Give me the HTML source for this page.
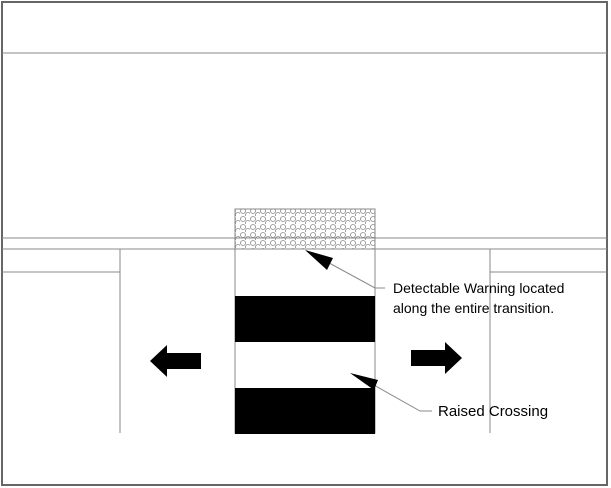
<!DOCTYPE html>
<html><head><style>body{margin:0;background:#fff}svg{display:block}</style></head><body>
<svg width="611" height="488" xmlns="http://www.w3.org/2000/svg">
<defs><pattern id="p" width="10" height="8" patternUnits="userSpaceOnUse"><circle cx="3" cy="3" r="2.5" fill="none" stroke="#888" stroke-width="0.8"/><circle cx="8" cy="7" r="2.5" fill="none" stroke="#888" stroke-width="0.8"/></pattern></defs>
<rect x="2" y="2" width="605" height="483" fill="none" stroke="#666" stroke-width="2"/>
<g stroke="#888" stroke-width="1" fill="none">
<line x1="2" y1="53" x2="607" y2="53"/>
<line x1="2" y1="238" x2="607" y2="238"/>
<line x1="2" y1="249" x2="607" y2="249"/>
<line x1="2" y1="272" x2="120" y2="272"/>
<line x1="490" y1="272" x2="607" y2="272"/>
<line x1="120" y1="249" x2="120" y2="433"/>
<line x1="490" y1="249" x2="490" y2="433"/>
<rect x="235" y="209" width="140" height="224"/>
</g>
<rect x="235.5" y="209.5" width="139" height="39" fill="url(#p)"/>
<rect x="235" y="296" width="140" height="46" fill="#000"/>
<rect x="235" y="388" width="140" height="46" fill="#000"/>
<polygon points="150,361 167,345 167,353 201,353 201,369 167,369 167,377" fill="#000"/>
<polygon points="462,358 445,342 445,350 411,350 411,366 445,366 445,374" fill="#000"/>
<g stroke="#888" stroke-width="1" fill="none">
<polyline points="320,258 375,288 385,288"/>
<polyline points="365,380 420,411 432,411"/>
</g>
<polygon points="305,250 333,258 327,270" fill="#000"/>
<polygon points="350,373 378,380 374,390" fill="#000"/>
<g font-family="Liberation Sans, sans-serif" font-size="14" fill="#000">
<text x="393" y="293">Detectable Warning located</text>
<text x="393" y="313">along the entire transition.</text>
<text x="438" y="416" font-size="15">Raised Crossing</text>
</g>
</svg>
</body></html>
